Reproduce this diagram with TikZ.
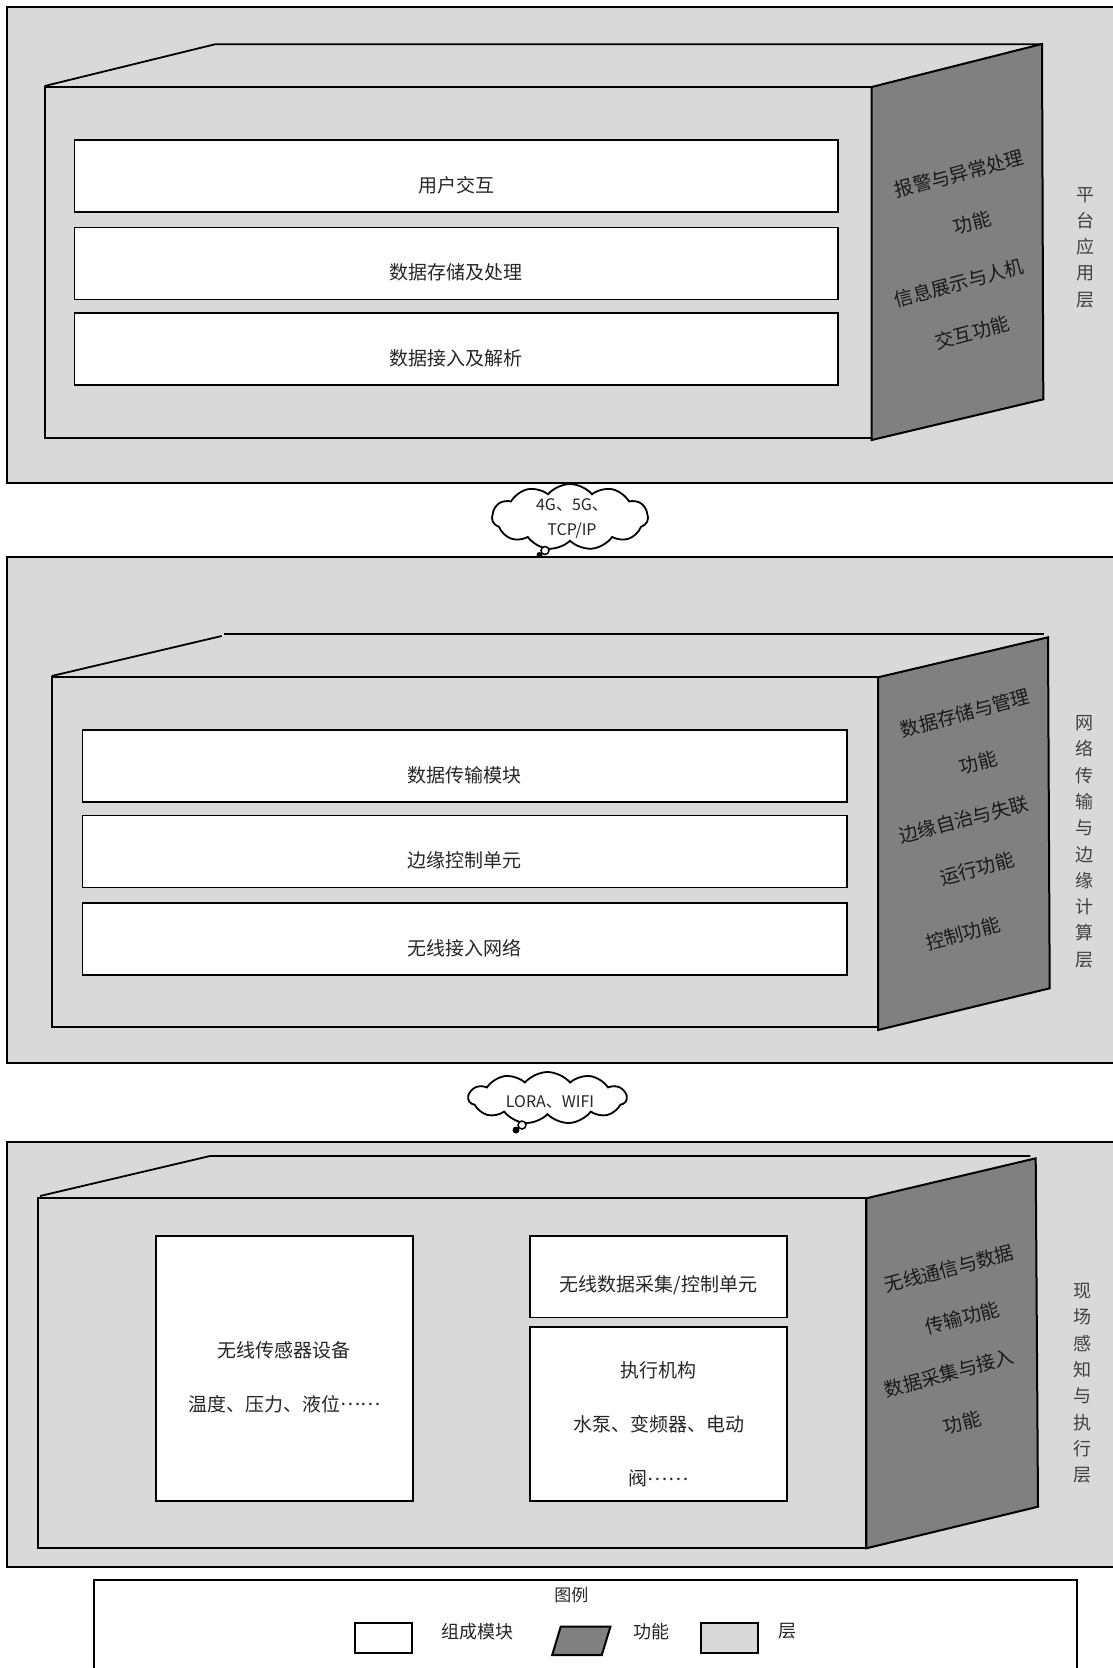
\documentclass[tikz,border=0pt]{standalone}
\usepackage{fontspec}
\setmainfont{Noto Sans CJK SC}
\usepackage{xcolor}
\usepackage{tikz}
\usetikzlibrary{shapes.symbols}

\definecolor{layergray}{HTML}{D9D9D9}
\definecolor{funcgray}{HTML}{808080}
\definecolor{inkgray}{HTML}{262626}

\newcommand{\middots}{\raisebox{.3em}{……}}

\begin{document}
\begin{tikzpicture}[
    x=1pt, y=-1pt,
    layerbg/.style={draw=black, line width=2pt, fill=layergray},
    frontface/.style={draw=black, line width=2pt, fill=layergray},
    sideface/.style={draw=black, line width=2pt, fill=funcgray},
    topedge/.style={draw=black, line width=1.8pt},
    modbox/.style={rectangle, draw=black, line width=1.6pt, fill=white, inner sep=0pt},
    modtext/.style={font=\fontsize{19}{54}\selectfont, text=inkgray, align=center},
    functext/.style={font=\fontsize{19}{51}\selectfont, text=black!90, align=center, rotate=15},
    layerlabel/.style={font=\fontsize{18}{26.3}\selectfont, text=black!75, align=center},
    bubble/.style={cloud, cloud puffs=11, cloud puff arc=100, cloud ignores aspect, draw=black, line width=1.8pt, fill=white, inner sep=0pt},
    bubbletext/.style={font=\fontsize{16}{25}\selectfont, text=inkgray, align=center},
    legendbox/.style={draw=black, line width=2pt},
    legendtext/.style={font=\fontsize{18}{22}\selectfont, text=inkgray}
]
\useasboundingbox (0,0) rectangle (1113,1668);

% Layer 1: platform application
\draw[layerbg] (6.7,7.3) rectangle (1125,483.3);
\draw[topedge] (44.7,86) -- (215,44.3) -- (1042,44.3);
\draw[frontface] (44.7,87) rectangle (871.7,438);
\draw[sideface] (871.7,87) -- (1042,44) -- (1043.3,399.3) -- (871.7,440) -- cycle;

\node[modbox, minimum width=763.7, minimum height=72] (ui) at (456.4,176) {};
\node[modbox, minimum width=763.7, minimum height=72] (store) at (456.4,263.5) {};
\node[modbox, minimum width=763.7, minimum height=72] (parse) at (456.4,349) {};
\node[modtext] (uitxt) at ([yshift=-9pt]ui.center) {用户交互};
\node[modtext] (storetxt) at ([yshift=-9pt]store.center) {数据存储及处理};
\node[modtext] (parsetxt) at ([yshift=-9pt]parse.center) {数据接入及解析};

\node[functext] (alarm) at (965.7,198.3) {报警与异常处理\\功能};
\node[functext] (hmi) at (965.7,307.5) {信息展示与人机\\交互功能};
\node[layerlabel] (lab1) at (1085,247.5) {平\\台\\应\\用\\层};

% Layer 2: network transmission and edge computing
\draw[layerbg] (6.7,556.7) rectangle (1125,1063.3);
\draw[topedge] (51.7,676) -- (221.7,636);
\draw[topedge] (224,634) -- (1043.7,634);
\draw[frontface] (51.7,677.3) rectangle (878,1027.3);
\draw[sideface] (878,677.3) -- (1048,637.3) -- (1049.7,988.3) -- (878,1030) -- cycle;

\node[modbox, minimum width=764.7, minimum height=72] (trans) at (464.7,766.2) {};
\node[modbox, minimum width=764.7, minimum height=72] (edge) at (464.7,851.3) {};
\node[modbox, minimum width=764.7, minimum height=72] (wan) at (464.7,938.9) {};
\node[modtext] (transtxt) at ([yshift=-9pt]trans.center) {数据传输模块};
\node[modtext] (edgetxt) at ([yshift=-9pt]edge.center) {边缘控制单元};
\node[modtext] (wantxt) at ([yshift=-9pt]wan.center) {无线接入网络};

\node[functext] (manage) at (971.7,737.5) {数据存储与管理\\功能};
\node[functext] (autonomy) at (970.5,844.2) {边缘自治与失联\\运行功能};
\node[functext] (control) at (963,933.3) {控制功能};
\node[layerlabel] (lab2) at (1084,841.7) {网\\络\\传\\输\\与\\边\\缘\\计\\算\\层};

% Layer 3: field sensing and execution
\draw[layerbg] (6.7,1141.7) rectangle (1125,1567);
\draw[topedge] (40,1196) -- (210,1156) -- (1030.3,1156);
\draw[frontface] (37.7,1198.3) rectangle (866.3,1547.7);
\draw[sideface] (866.3,1198.3) -- (1035.7,1158.3) -- (1038,1506.7) -- (866.3,1548.3) -- cycle;

\node[modbox, minimum width=257, minimum height=265.3] (sensor) at (284.2,1368.4) {};
\node[modbox, minimum width=257, minimum height=81.6] (rtu) at (658.5,1276.5) {};
\node[modbox, minimum width=257, minimum height=174] (actor) at (658.5,1413.7) {};
\node[modtext] (sensortxt) at ([yshift=-9pt]sensor.center) {无线传感器设备\\温度、压力、液位\middots};
\node[modtext] (rtutxt) at ([yshift=-9pt]rtu.center) {无线数据采集/控制单元};
\node[modtext] (actortxt) at ([yshift=-11pt]actor.center) {执行机构\\水泵、变频器、电动\\阀\middots};

\node[functext] (wireless) at (955.8,1293.3) {无线通信与数据\\传输功能};
\node[functext] (collect) at (955.8,1397.5) {数据采集与接入\\功能};
\node[layerlabel] (lab3) at (1082.3,1383.3) {现\\场\\感\\知\\与\\执\\行\\层};

% Links between layers
\node[bubble, minimum width=156, minimum height=66] (net1) at (570,517) {};
\node[bubbletext] (net1txt) at (572,518) {4G、5G、\\TCP/IP};
\draw[line width=1.5pt, fill=white] (545,550.5) circle (4pt);
\fill (539.5,555) circle (3pt);

\node[bubble, minimum width=158, minimum height=52] (net2) at (547.5,1098) {};
\node[bubbletext] (net2txt) at (550,1101.5) {LORA、WIFI};
\draw[line width=1.5pt, fill=white] (522,1125) circle (4pt);
\fill (516,1130) circle (3.5pt);

% Legend
\draw[legendbox, fill=white] (94.4,1580) rectangle (1076.7,1690);
\node[legendtext, font=\fontsize{17}{20}\selectfont] (legtitle) at (571.3,1595) {图例};
\draw[legendbox, fill=white] (355,1623.3) rectangle (411.6,1653.3);
\node[legendtext] (legmod) at (477,1631.7) {组成模块};
\draw[legendbox, fill=funcgray] (552.2,1655) -- (560.7,1626.7) -- (610.4,1626.7) -- (601.8,1655) -- cycle;
\node[legendtext] (legfunc) at (651.5,1631.7) {功能};
\draw[legendbox, fill=layergray] (701.2,1623.3) rectangle (758,1653.3);
\node[legendtext] (leglayer) at (787.8,1630.7) {层};

\end{tikzpicture}
\end{document}
